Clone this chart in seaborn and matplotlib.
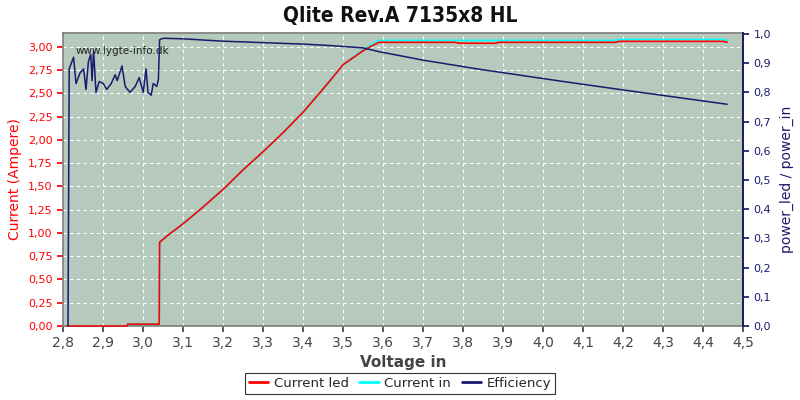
import matplotlib
matplotlib.use("Agg")
import matplotlib.pyplot as plt
import seaborn as sns
import pandas as pd
from matplotlib.ticker import FuncFormatter, MultipleLocator
from matplotlib.lines import Line2D

# ---- data ----
v_cur = [2.81, 2.96, 2.961, 3.04, 3.041, 3.06, 3.10, 3.15, 3.20, 3.25, 3.30, 3.35, 3.40,
         3.45, 3.4675, 3.50, 3.55, 3.58, 3.59, 3.78, 3.79, 3.88, 3.89, 4.18, 4.19, 4.45, 4.46]
current_led = [0.0, 0.0, 0.02, 0.02, 0.90, 0.97, 1.10, 1.28, 1.47, 1.68, 1.875, 2.08, 2.30,
               2.55, 2.64, 2.81, 2.96, 3.03, 3.05, 3.05, 3.04, 3.04, 3.05, 3.05, 3.06, 3.06, 3.05]
current_in = [0.0, 0.0, 0.02, 0.02, 0.90, 0.97, 1.10, 1.28, 1.47, 1.68, 1.875, 2.08, 2.30,
              2.55, 2.64, 2.81, 2.97, 3.05, 3.07, 3.07, 3.07, 3.07, 3.07, 3.07, 3.08, 3.08, 3.07]

v_eff = [2.812, 2.815, 2.826, 2.832, 2.842, 2.851, 2.857, 2.863, 2.869, 2.872, 2.876, 2.882,
         2.89, 2.90, 2.909, 2.92, 2.93, 2.935, 2.947, 2.955, 2.967, 2.98, 2.99, 3.0, 3.007,
         3.012, 3.02, 3.025, 3.034, 3.038, 3.041, 3.05, 3.10, 3.20, 3.30, 3.40, 3.4675,
         3.55, 3.59, 3.70, 3.84, 4.04, 4.20, 4.46]
efficiency = [0.0, 0.88, 0.92, 0.83, 0.866, 0.88, 0.81, 0.905, 0.93, 0.84, 0.94, 0.80,
              0.837, 0.83, 0.81, 0.83, 0.86, 0.84, 0.89, 0.82, 0.80, 0.82, 0.85, 0.80, 0.88,
              0.80, 0.79, 0.83, 0.82, 0.845, 0.98, 0.985, 0.983, 0.975, 0.97, 0.965, 0.96,
              0.952, 0.939, 0.91, 0.879, 0.839, 0.808, 0.759]

x_ticks = [2.8, 2.9, 3.0, 3.1, 3.2, 3.3, 3.4, 3.5, 3.6, 3.7, 3.8, 3.9, 4.0, 4.1, 4.2, 4.3, 4.4, 4.5]

df_cur = pd.DataFrame({"v": v_cur, "led": current_led, "cin": current_in})
df_eff = pd.DataFrame({"v": v_eff, "eff": efficiency})

sns.set_theme(style="white")
plt.rcParams["font.family"] = ["DejaVu Sans"]

fig = plt.figure(figsize=(8, 4), dpi=100)
ax = fig.add_axes([0.079, 0.185, 0.85, 0.7325])
bg = "#b5c9bd"
ax.set_facecolor(bg)
ax2 = ax.twinx()

sns.lineplot(data=df_eff, x="v", y="eff", ax=ax2, color="#1a1a6e", lw=1.1, estimator=None, sort=False)
ax2.set_zorder(ax.get_zorder() - 1)
ax.patch.set_visible(True)
ax2.patch.set_visible(False)
# draw currents on top of efficiency: put efficiency axis behind, keep ax background visible
ax.set_zorder(0)
ax2.set_zorder(1)
sns.lineplot(data=df_cur, x="v", y="cin", ax=ax2 if False else ax, color="#00ffff", lw=1.2, estimator=None, sort=False)
sns.lineplot(data=df_cur, x="v", y="led", ax=ax, color="#ff0000", lw=1.2, estimator=None, sort=False)
for l in ax.get_lines() + ax2.get_lines():
    l.set_clip_on(False)
    l.set_zorder(3)

ax.set_xlim(2.8, 4.5)
ax.set_ylim(0, 3.15)
ax2.set_ylim(0, 1.003)
ax.set_xticks(x_ticks)
ax.yaxis.set_major_locator(MultipleLocator(0.25))
ax2.yaxis.set_major_locator(MultipleLocator(0.1))
ax.xaxis.set_major_formatter(FuncFormatter(lambda x, p: f"{x:.1f}".replace(".", ",")))
ax.yaxis.set_major_formatter(FuncFormatter(lambda x, p: f"{x:.2f}".replace(".", ",")))
ax2.yaxis.set_major_formatter(FuncFormatter(lambda x, p: f"{x:.1f}".replace(".", ",")))

ax.grid(True, color="white", linestyle=(0, (3, 3)), linewidth=0.8)
ax.set_axisbelow(True)

ax.tick_params(axis="x", labelsize=10, colors="#444444", length=4, direction="out", bottom=True)
ax.tick_params(axis="y", labelsize=8, colors="#ff0000", length=4, direction="out", left=True)
ax2.tick_params(axis="y", labelsize=8, colors="#1a1a6e", length=4, direction="out", right=True)

for s in ["top", "bottom", "left"]:
    ax.spines[s].set_color("#808080")
ax2.spines["right"].set_color("#1a1a6e")
ax2.spines["left"].set_visible(False)
ax2.spines["top"].set_visible(False)
ax2.spines["bottom"].set_visible(False)

ax.set_xlabel("Voltage in", fontsize=11, fontweight="bold", color="#444444", labelpad=3)
ax.set_ylabel("Current (Ampere)", fontsize=10, color="#ff0000", labelpad=4)
ax2.set_ylabel("power_led / power_in", fontsize=10, color="#1a1a6e", labelpad=6)
fig.suptitle("Qlite Rev.A 7135x8 HL", fontsize=15, fontweight="bold", color="#111111", y=0.985,
             fontstretch="condensed")

ax.text(0.018, 0.955, "www.lygte-info.dk", transform=ax.transAxes, fontsize=7.5, color="#222222",
        va="top", ha="left")

handles = [Line2D([], [], color="#ff0000", lw=2),
           Line2D([], [], color="#00ffff", lw=2),
           Line2D([], [], color="#1a1a6e", lw=2)]
leg = fig.legend(handles, ["Current led", "Current in", "Efficiency"], loc="center",
                 bbox_to_anchor=(0.5, 0.042), ncol=3, frameon=True, fontsize=9.5,
                 handlelength=1.5, handletextpad=0.4, columnspacing=0.8, fancybox=False,
                 borderpad=0.3)
leg.get_frame().set_edgecolor("black")
leg.get_frame().set_linewidth(0.8)

fig.savefig("out.png", dpi=100, facecolor="white")
